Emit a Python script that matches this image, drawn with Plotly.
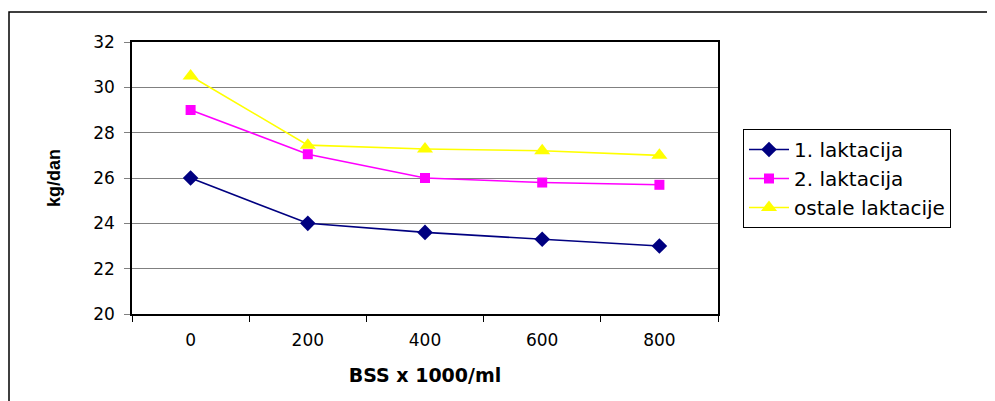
import plotly.graph_objects as go

categories = ["0", "200", "400", "600", "800"]
lakt1 = [26.0, 24.0, 23.6, 23.3, 23.0]
lakt2 = [29.0, 27.05, 26.0, 25.8, 25.7]
ostale = [30.5, 27.45, 27.28, 27.2, 27.0]
y_ticks = [20, 22, 24, 26, 28, 30, 32]

OFF = 8  # page body margin
W, H = 995 - OFF, 401 - OFF
L, T = 132 - OFF, 42 - OFF
pw, ph = 586, 272
R = W - L - pw
B = H - T - ph

def px2x(px):
    return (px - OFF - L) / pw

def py2y(py):
    return (T + ph - (py - OFF)) / ph

fig = go.Figure()
fig.add_trace(go.Scatter(x=categories, y=lakt1, name="1. laktacija", mode="lines+markers",
                         line=dict(color="#000080", width=1.6),
                         marker=dict(symbol="diamond", size=12, color="#000080")))
fig.add_trace(go.Scatter(x=categories, y=lakt2, name="2. laktacija", mode="lines+markers",
                         line=dict(color="#FF00FF", width=1.6),
                         marker=dict(symbol="square", size=10, color="#FF00FF")))
fig.add_trace(go.Scatter(x=categories, y=ostale, name="ostale laktacije", mode="lines+markers",
                         line=dict(color="#FFFF00", width=1.6),
                         marker=dict(symbol="triangle-up", size=14, color="#FFFF00")))

font_family = "DejaVu Sans, Liberation Sans, Arial, sans-serif"
fig.update_layout(
    width=W, height=H,
    margin=dict(l=L, r=R, t=T, b=B),
    paper_bgcolor="white", plot_bgcolor="white",
    font=dict(family=font_family, size=17, color="black"),
    showlegend=True,
    legend=dict(x=px2x(743), y=py2y(129), xanchor="left", yanchor="top",
                bordercolor="black", borderwidth=1, bgcolor="white",
                font=dict(size=20, family=font_family), tracegroupgap=0,
                itemwidth=40),
    xaxis=dict(type="category", range=[-0.5, 4.5], tickson="boundaries",
               ticks="outside", ticklen=6, tickcolor="black",
               showline=True, linecolor="black", linewidth=1.5, mirror=True,
               showgrid=False, ticklabelstandoff=10,
               title=dict(text="<b>BSS x 1000/ml</b>", font=dict(size=19), standoff=20)),
    yaxis=dict(range=[20, 32], tickvals=y_ticks, ticks="outside", ticklen=6,
               tickcolor="#808080", showline=True, linecolor="black", linewidth=1.5, mirror=True,
               showgrid=True, gridcolor="#808080", gridwidth=1, zeroline=False,
               ticklabelstandoff=6,
               title=dict(text="<b>kg/dan</b>", font=dict(size=18, family="Liberation Sans Narrow, Arial Narrow, Liberation Sans"), standoff=28)),
    shapes=[dict(type="rect", xref="paper", yref="paper",
                 x0=px2x(9), y0=py2y(1000), x1=px2x(1100), y1=py2y(12),
                 line=dict(color="black", width=1.5), fillcolor="rgba(0,0,0,0)", layer="below")],
)

fig.write_html("out.html")
